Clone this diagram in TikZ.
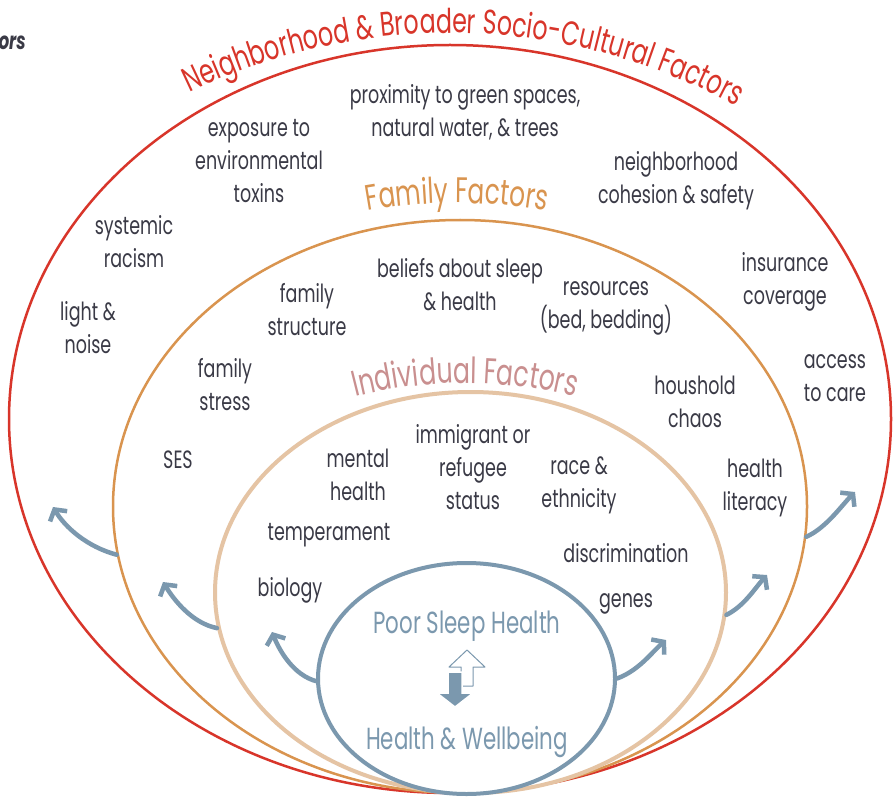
\documentclass[tikz,border=0pt]{standalone}
\usepackage{fontspec}
\setmainfont{Poppins}[FakeStretch=0.70]
\usetikzlibrary{shapes.geometric,arrows.meta,decorations.text}

\begin{document}
\begin{tikzpicture}[x=1pt, y=-1pt,
    ring/.style={ellipse, fill=white, inner sep=0pt},
    factor/.style={font=\fontsize{25}{33}\selectfont, text=ink, align=center, inner sep=0pt},
    outcome/.style={font=\fontsize{30.5}{30.5}\selectfont, text=sleepblue, inner sep=0pt},
    flow/.style={draw=sleepblue, line width=4.5pt, line cap=round, -{Straight Barb[length=8pt, width=20pt]}}]
        \definecolor{ink}{RGB}{58,58,70}
        \definecolor{neighred}{RGB}{216,53,42}
        \definecolor{familyorange}{RGB}{217,148,79}
        \definecolor{indivtan}{RGB}{229,196,164}
        \definecolor{indivrose}{RGB}{201,143,143}
        \definecolor{sleepblue}{RGB}{123,152,174}

        \useasboundingbox[fill=white] (0,0) rectangle (893,799);

        % Concentric ellipses (outer to inner)
        \node[ring, draw=neighred, line width=2.5pt, minimum width=882pt, minimum height=748pt] (neigh) at (450,419) {};
        \node[ring, draw=familyorange, line width=2.5pt, minimum width=694pt, minimum height=573pt] (family) at (460,506.5) {};
        \node[ring, draw=indivtan, line width=4pt, minimum width=511pt, minimum height=401pt] (indiv) at (470.5,592.5) {};
        \node[ring, draw=sleepblue, line width=4pt, minimum width=297pt, minimum height=231pt] (sleep) at (466.5,678.5) {};

        % Curved layer titles
        \path[decorate, decoration={text along path, text align=center,
            text={|\fontsize{34}{34}\selectfont\color{neighred}|Neighborhood {\&} Broader Socio-Cultural Factors}}]
            (136.8,121.8) arc[start angle=-121.65, end angle=-55.65, radius=597];
        \path[decorate, decoration={text along path, text align=center,
            text={|\fontsize{35.5}{35.5}\selectfont\color{familyorange}|Family Factors}}]
            (245.7,249.8) arc[start angle=-115, end angle=-65, radius=500];
        \path[decorate, decoration={text along path, text align=center,
            text={|\fontsize{36}{36}\selectfont\color{indivrose}|Individual Factors}}]
            (245,442) arc[start angle=-120, end angle=-60, radius=440];

        % Cut-off heading at the corner
        \node[font=\fontsize{24}{24}\selectfont\bfseries\itshape, text=ink, anchor=base east, inner sep=0pt] (cut) at (26,50) {ors};

        % Neighborhood factors
        \node[factor] (green) at (465,112) {proximity to green spaces,\\natural water, \& trees};
        \node[factor] (toxins) at (259,161) {exposure to\\environmental\\toxins};
        \node[factor] (cohesion) at (676,181) {neighborhood\\cohesion \& safety};
        \node[factor] (racism) at (134,242) {systemic\\racism};
        \node[factor] (light) at (88,328) {light \&\\noise};
        \node[factor] (insurance) at (785,282) {insurance\\coverage};
        \node[factor] (access) at (835,378) {access\\to care};

        % Family factors
        \node[factor] (beliefs) at (460,285) {beliefs about sleep\\\& health};
        \node[factor] (structure) at (307,310) {family\\structure};
        \node[factor] (resources) at (606,308) {resources\\(bed, bedding)};
        \node[factor] (stress) at (225,385) {family\\stress};
        \node[factor] (chaos) at (695,402) {houshold\\chaos};
        \node[factor] (ses) at (178,460) {SES};
        \node[factor] (literacy) at (755,488) {health\\literacy};

        % Individual factors
        \node[factor] (immigrant) at (473,467) {immigrant or\\refugee\\status};
        \node[factor] (mental) at (358,475) {mental\\health};
        \node[factor] (race) at (579,485) {race \&\\ethnicity};
        \node[factor] (temper) at (329,535) {temperament};
        \node[factor] (discrim) at (626,553) {discrimination};
        \node[factor] (biology) at (290,590) {biology};
        \node[factor] (genes) at (626,604) {genes};

        % Centre
        \node[outcome, anchor=base] (poor) at (467,633) {Poor Sleep Health};
        \node[outcome, anchor=base] (wellbeing) at (467,749) {Health \& Wellbeing};
        \draw[sleepblue, line width=1pt, line join=round] (461,686) -- (461,667) -- (449,667) -- (467,650) -- (485,667) -- (473,667) -- (473,686) -- cycle;
        \fill[sleepblue, draw=white, line width=1.5pt] (448,672) -- (462,672) -- (462,693) -- (473,693) -- (455,707) -- (437,693) -- (448,693) -- cycle;

        % Outward arrows
        \coordinate (l1) at (272,632);
        \coordinate (l2) at (163,582);
        \coordinate (l3) at (53,507);
        \coordinate (r1) at (666,640);
        \coordinate (r2) at (767,575);
        \coordinate (r3) at (855,492);
        \draw[flow] (sleep.181.5) .. controls +(-22,-6) and +(8,20) .. (l1);
        \draw[flow] (indiv.188.5) .. controls +(-25,-5) and +(11,18) .. (l2);
        \draw[flow] (family.188.8) .. controls +(-30,-8) and +(12,20) .. (l3);
        \draw[flow] (sleep.0) .. controls +(22,-8) and +(-14,12) .. (r1);
        \draw[flow] (indiv.355) .. controls +(18,-9) and +(-12,13) .. (r2);
        \draw[flow] (family.355.4) .. controls +(20,-9) and +(-13,13) .. (r3);
    \end{tikzpicture}
\end{document}
